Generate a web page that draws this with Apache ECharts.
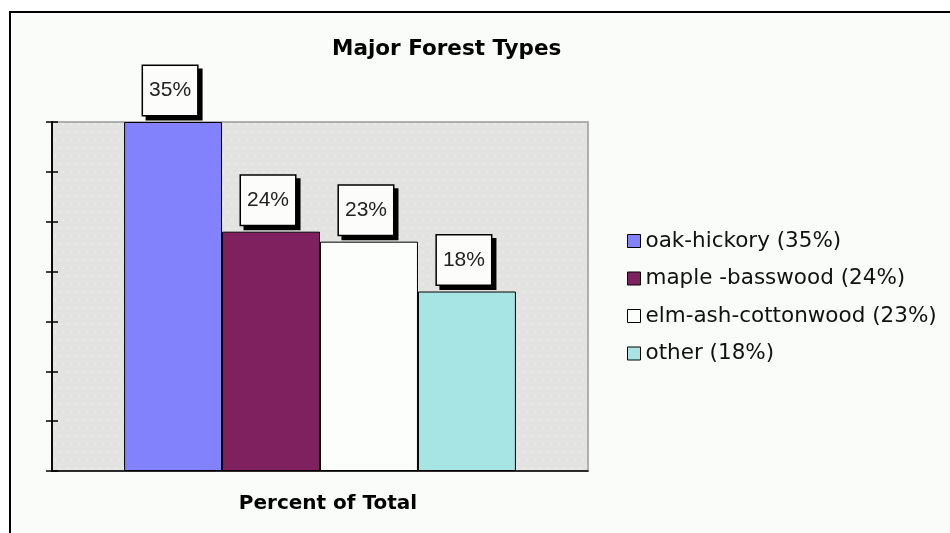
<!doctype html>
<html>
<head>
<meta charset="UTF-8">
<title>Major Forest Types</title>
<script src="https://cdn.jsdelivr.net/npm/echarts@6/dist/echarts.min.js"></script>
<style>
	html, body { margin: 0; padding: 0; background: #fff; }
	#chart { width: 950px; height: 533px; }
</style>
</head>
<body>
<div id="chart"></div>
<script>
	// 数据
	var categories = ['Percent of Total'];
	var forestTypes = ['oak-hickory', 'maple -basswood', 'elm-ash-cottonwood', 'other'];
	var percents = [35, 24, 23, 18];
	var colors = ['#8282fc', '#80215f', '#fcfefb', '#a6e5e3'];

	// 背景点状图案
	function dotPattern() {
		var c = document.createElement('canvas');
		c.width = 16;
		c.height = 16;
		var ctx = c.getContext('2d');
		ctx.fillStyle = '#e3e3e1';
		ctx.fillRect(0, 0, 16, 16);
		ctx.fillStyle = '#f7f7f5';
		ctx.fillRect(3, 4, 1, 1);
		ctx.fillRect(11, 4, 1, 1);
		ctx.fillRect(7, 12, 1, 1);
		ctx.fillRect(15, 12, 1, 1);
		return { image: c, repeat: 'repeat' };
	}

	var myChart = echarts.init(document.getElementById('chart'));

	var series = [];
	for (var i = 0; i < forestTypes.length; i++) {
		series.push({
			name: forestTypes[i],
			type: 'bar',
			yAxisIndex: 0,
			barGap: '0%',
			barCategoryGap: '26.9%',
			data: [percents[i]],
			itemStyle: { color: colors[i], borderColor: '#000', borderWidth: 1 },
			label: {
				show: true,
				position: 'top',
				distance: 7,
				offset: [-3, 0],
				formatter: '{c}%',
				fontFamily: 'Liberation Sans, Arial, sans-serif',
				fontSize: 21,
				color: '#222',
				backgroundColor: '#fcfdfb',
				borderColor: '#000',
				borderWidth: 1.5,
				padding: [14, 6, 14, 6],
				shadowColor: '#000',
				shadowBlur: 0,
				shadowOffsetX: 4,
				shadowOffsetY: 4
			}
		});
	}

	var option = {
		backgroundColor: '#fff',
		animation: false,
		graphic: [{
			type: 'rect',
			z: -10,
			shape: { x: 10, y: 12, width: 960, height: 540 },
			style: { fill: '#fafcf9', stroke: '#000', lineWidth: 2 }
		}],
		title: {
			text: 'Major Forest Types',
			left: 327,
			top: 33,
			textStyle: {
				fontFamily: 'DejaVu Sans, sans-serif',
				fontWeight: 'bold',
				fontSize: 21.5,
				color: '#000'
			}
		},
		legend: {
			orient: 'vertical',
			left: 622,
			top: 225,
			itemWidth: 13,
			itemHeight: 13,
			itemGap: 15.5,
			icon: 'rect',
			itemStyle: { borderColor: '#000', borderWidth: 1 },
			formatter: function (name) {
				return name + ' (' + percents[forestTypes.indexOf(name)] + '%)';
			},
			textStyle: {
				fontFamily: 'DejaVu Sans, sans-serif',
				fontSize: 21.5,
				color: '#111',
				padding: [0, 0, 0, 0]
			},
			data: forestTypes
		},
		grid: {
			left: 52,
			right: 362,
			top: 122,
			bottom: 62,
			show: true,
			backgroundColor: dotPattern(),
			borderColor: '#999',
			borderWidth: 1.5
		},
		xAxis: {
			type: 'category',
			data: categories,
			name: categories[0],
			nameLocation: 'middle',
			nameGap: 23,
			nameTextStyle: {
				fontFamily: 'DejaVu Sans, sans-serif',
				fontWeight: 'bold',
				fontSize: 20,
				color: '#000',
				padding: [0, 0, 0, 16]
			},
			axisLabel: { show: false },
			axisLine: { lineStyle: { color: '#000', width: 1.5 } },
			axisTick: { length: 6, lineStyle: { color: '#000', width: 1.5 } }
		},
		yAxis: [{
			type: 'value',
			min: 0,
			max: 35,
			interval: 5,
			axisLabel: { show: false },
			splitLine: { show: false },
			axisLine: { show: true, lineStyle: { color: '#000', width: 1.5 } },
			axisTick: { show: true, length: 6, lineStyle: { color: '#000', width: 1.5 } }
		}, {
			type: 'value',
			position: 'left',
			offset: 0,
			min: 0,
			max: 35,
			interval: 5,
			axisLabel: { show: false },
			splitLine: { show: false },
			axisLine: { show: true, lineStyle: { color: '#000', width: 1.5 } },
			axisTick: { show: true, inside: true, length: 6, lineStyle: { color: '#000', width: 1.5 } }
		}],
		series: series
	};

	myChart.setOption(option);
</script>
</body>
</html>
